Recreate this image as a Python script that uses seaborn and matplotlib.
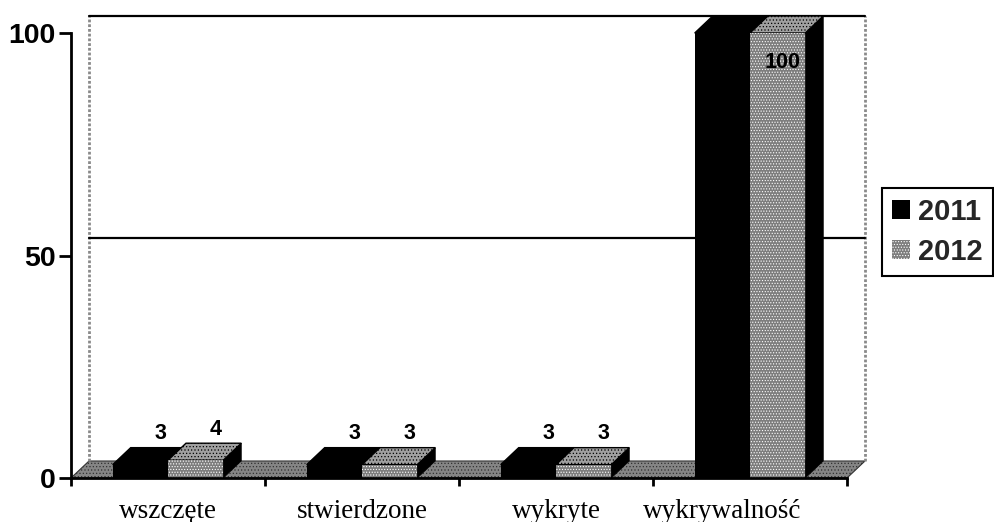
import pandas as pd
import seaborn as sns
import matplotlib.pyplot as plt
from matplotlib.patches import Polygon
from matplotlib.transforms import ScaledTranslation

# values
categories = ['wszczęte', 'stwierdzone', 'wykryte', 'wykrywalność']
years = ['2011', '2012']
values_2011 = [3, 3, 3, 100]
values_2012 = [4, 3, 3, 100]
y_ticks = [0, 50, 100]

W, H = 995, 522
DARK = '#000000'
GREY = '#7d7d7d'
TOP_GREY = '#a0a0a0'

# depth of the fake 3d box, px
DEPTH_X = 18
DEPTH_Y = 17

sns.set_theme(style='white')
plt.rcParams['font.family'] = ['Liberation Sans', 'DejaVu Sans']
plt.rcParams['hatch.linewidth'] = 0.5
plt.rcParams['hatch.color'] = 'white'

data = pd.DataFrame({
    'category': categories * 2,
    'year': [years[0]] * 4 + [years[1]] * 4,
    'value': values_2011 + values_2012,
})

fig = plt.figure(figsize=(W / 100, H / 100), dpi=100, facecolor='white')
ax = fig.add_axes([71 / W, 1 - 478 / H, (847 - 71) / W, (478 - 33) / H])

sns.barplot(data=data, x='category', y='value', hue='year',
            palette=[DARK, GREY], width=0.57, gap=0, dodge=True,
            errorbar=None, linewidth=0, zorder=4, ax=ax)
ax.set_xlim(-0.5, 3.5)
ax.set_ylim(0, 100)
ax.patch.set_alpha(0)

# px -> data units for the depth offsets
dx = DEPTH_X * 4 / (847 - 71)
dy = DEPTH_Y * 100 / (478 - 33)

# walls and floor
floor = Polygon([(-0.5, 0), (-0.5 + dx, dy), (3.5 + dx, dy), (3.5, 0)],
                closed=True, facecolor='#858585', edgecolor='#333333', lw=0.8,
                hatch='.....', clip_on=False, zorder=1)
ax.add_patch(floor)
for x_wall in [-0.5 + dx, 3.5 + dx]:
    ax.plot([x_wall, x_wall], [dy, 100 + dy], color='#8a8a8a', lw=2,
            ls=(0, (1, 0.7)), clip_on=False, zorder=1)
for v in y_ticks[1:]:
    ax.plot([-0.5 + dx, 3.5 + dx], [v + dy, v + dy], color='black', lw=1.6,
            clip_on=False, zorder=1)

# sides and tops of every bar, then labels
for container, vals, front, top in zip(ax.containers, [values_2011, values_2012],
                                       [DARK, GREY], [DARK, TOP_GREY]):
    for patch, v in zip(container, vals):
        x0 = patch.get_x()
        x1 = x0 + patch.get_width()
        if front == GREY:
            patch.set_hatch('......')
        patch.set_edgecolor('white' if front == GREY else DARK)
        ax.add_patch(Polygon([(x1, 0), (x1 + dx, dy), (x1 + dx, v + dy), (x1, v)],
                             closed=True, facecolor=DARK, edgecolor=DARK, lw=0.5,
                             clip_on=False, zorder=3))
        ax.add_patch(Polygon([(x0, v), (x0 + dx, v + dy), (x1 + dx, v + dy), (x1, v)],
                             closed=True, facecolor=top, edgecolor=DARK, lw=1,
                             hatch='.....' if top != DARK else None,
                             clip_on=False, zorder=3))
        offset = (20, 31) if v < 50 else (5, -29)
        ax.annotate(str(v), ((x0 + x1) / 2, v), xytext=offset,
                    textcoords='offset pixels', ha='center', va='center',
                    fontsize=15.5, fontweight='bold', color='black', zorder=6,
                    annotation_clip=False)

# axes
sns.despine(ax=ax, top=True, right=True)
for side in ['left', 'bottom']:
    ax.spines[side].set_linewidth(2)
    ax.spines[side].set_color('black')
    ax.spines[side].set_zorder(5)
ax.set_xlabel('')
ax.set_ylabel('')
ax.set_yticks(y_ticks)
ax.tick_params(axis='y', left=True, length=9, width=2, color='black', pad=2,
               labelsize=20.5, labelcolor='black')
for label in ax.get_yticklabels():
    label.set_fontweight('bold')
ax.set_xticks(range(4))
ax.set_xticklabels(categories, family=['Liberation Serif'], fontsize=19.5, color='black')
ax.set_xticks([-0.5, 0.5, 1.5, 2.5, 3.5], minor=True)
ax.tick_params(axis='x', which='minor', bottom=True, length=6, width=2, color='black')
ax.tick_params(axis='x', which='major', bottom=False, pad=9)

# last label sits left of its category in the reference
last = ax.get_xticklabels()[-1]
last.set_transform(last.get_transform() + ScaledTranslation(-28 / 100, 0, fig.dpi_scale_trans))

# legend
handles, labels = ax.get_legend_handles_labels()
handles[1].set_hatch('......')
handles[1].set_edgecolor('white')
leg = ax.legend(handles, labels, loc='center left',
                bbox_to_anchor=(882 / W, 1 - 232 / H), bbox_transform=fig.transFigure,
                frameon=True, fancybox=False, framealpha=1, edgecolor='black',
                prop={'family': 'Liberation Sans', 'weight': 'bold', 'size': 21},
                handlelength=0.62, handleheight=0.62, handletextpad=0.3,
                labelspacing=0.42, borderpad=0.33, borderaxespad=0, title=None)
leg.get_frame().set_linewidth(1.5)

fig.savefig('out.png', dpi=100, facecolor='white')
